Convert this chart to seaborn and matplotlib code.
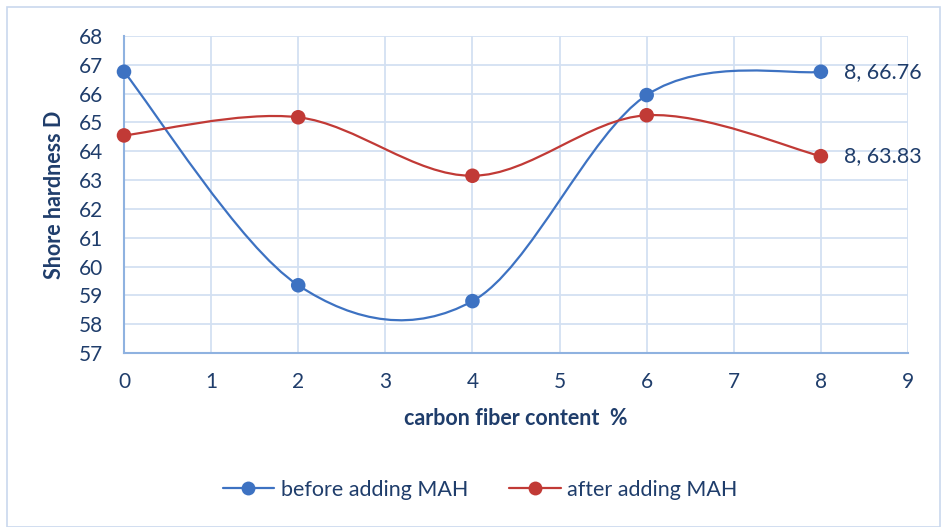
import numpy as np
import pandas as pd
import matplotlib
matplotlib.use("Agg")
import matplotlib.pyplot as plt
import seaborn as sns
from matplotlib.path import Path
from matplotlib.patches import PathPatch, Rectangle
from matplotlib.lines import Line2D

# ---- data ----
fiber_content = [0, 2, 4, 6, 8]
before_mah = [66.76, 59.35, 58.80, 65.95, 66.76]
after_mah = [64.55, 65.18, 63.15, 65.25, 63.83]
series_names = ["before adding MAH", "after adding MAH"]
x_ticks = list(range(0, 10))
y_ticks = list(range(57, 69))

BLUE = "#3d72c2"
RED = "#c13a36"
TEXT = "#1f3d6b"
GRID = "#d3e0f2"
SPINE = "#8fb2e0"

sns.set_theme(style="white")
plt.rcParams['font.family'] = ['Lato', 'DejaVu Sans']

fig = plt.figure(figsize=(9.44, 5.27), dpi=100)
ax = fig.add_axes([124/944, 1-353/527, (908-124)/944, (353-36)/527])

df = pd.DataFrame({
    "x": fiber_content * 2,
    "y": before_mah + after_mah,
    "series": [series_names[0]] * len(fiber_content) + [series_names[1]] * len(fiber_content),
})


def smooth_path(xs, ys):
    pts = np.column_stack([xs, ys]).astype(float)
    n = len(pts)
    verts = [pts[0]]
    codes = [Path.MOVETO]
    for i in range(n - 1):
        p0 = pts[i - 1] if i > 0 else pts[i]
        p1 = pts[i]
        p2 = pts[i + 1]
        p3 = pts[i + 2] if i + 2 < n else pts[i + 1]
        c1 = p1 + (p2 - p0) / 6.0
        c2 = p2 - (p3 - p1) / 6.0
        verts += [c1, c2, p2]
        codes += [Path.CURVE4] * 3
    return Path(verts, codes)


for name, vals, col in [(series_names[0], before_mah, BLUE), (series_names[1], after_mah, RED)]:
    patch = PathPatch(smooth_path(fiber_content, vals), facecolor="none", edgecolor=col, lw=1.6, zorder=3)
    ax.add_patch(patch)

sns.scatterplot(data=df, x="x", y="y", hue="series", palette=[BLUE, RED], s=110,
                edgecolor="none", ax=ax, zorder=4, legend=False, clip_on=False)

ax.set_xlim(0, 9)
ax.set_ylim(57, 68)
ax.set_xticks(x_ticks)
ax.set_yticks(y_ticks)
ax.grid(True, color=GRID, lw=1.3)
ax.set_axisbelow(True)
for s in ["top", "right"]:
    ax.spines[s].set_visible(False)
for s in ["left", "bottom"]:
    ax.spines[s].set_color(SPINE)
    ax.spines[s].set_linewidth(1.5)
ax.tick_params(axis="both", length=0, labelsize=15, colors=TEXT)
ax.tick_params(axis="y", pad=15)
ax.tick_params(axis="x", pad=14)
ax.set_xlabel("carbon fiber content  %", fontsize=15.5, fontweight="bold", color=TEXT, labelpad=11)
ax.set_ylabel("Shore hardness D", fontsize=15.5, fontweight="bold", color=TEXT, labelpad=10)

# data labels for last points
ax.annotate(f"{fiber_content[-1]}, {before_mah[-1]:.2f}", (fiber_content[-1], before_mah[-1]),
            xytext=(17, 0), textcoords="offset points", va="center", ha="left",
            fontsize=15.5, color=TEXT)
ax.annotate(f"{fiber_content[-1]}, {after_mah[-1]:.2f}", (fiber_content[-1], after_mah[-1]),
            xytext=(17, 0), textcoords="offset points", va="center", ha="left",
            fontsize=15.5, color=TEXT)

handles = [Line2D([], [], color=BLUE, lw=1.6, marker="o", markersize=10, markeredgecolor="none"),
           Line2D([], [], color=RED, lw=1.6, marker="o", markersize=10, markeredgecolor="none")]
fig.legend(handles, series_names, loc="center", bbox_to_anchor=(480/944, 1-490/527), ncol=2,
           frameon=False, fontsize=15.5, labelcolor=TEXT, handlelength=2.4, columnspacing=1.9,
           handletextpad=0.3)

# outer chart border
fig.patches.append(Rectangle((7/944, 0), 1 - 7/944 - 4/944, 1 - 7/527, transform=fig.transFigure,
                             fill=False, edgecolor="#c9d8ee", lw=1.2))

fig.savefig("out.png", dpi=100, facecolor="white")
